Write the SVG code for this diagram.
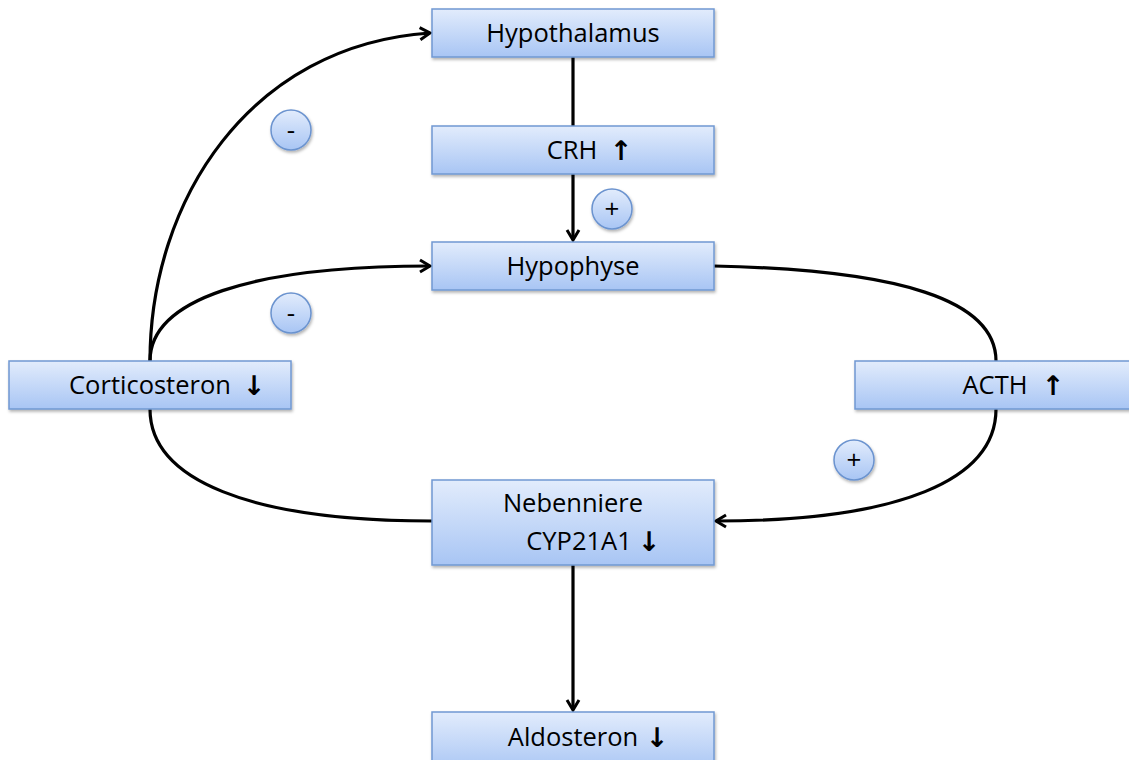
<svg xmlns="http://www.w3.org/2000/svg" width="1129" height="760" viewBox="0 0 1129 760">
<defs>
<linearGradient id="g" x1="0" y1="0" x2="0" y2="1">
<stop offset="0" stop-color="#e2ecfc"/>
<stop offset="1" stop-color="#a8c5f4"/>
</linearGradient>
<filter id="sh" x="-10%" y="-20%" width="120%" height="150%">
<feDropShadow dx="1" dy="2" stdDeviation="1.5" flood-color="#000" flood-opacity="0.3"/>
</filter>
<marker id="ah" markerWidth="16" markerHeight="16" refX="13" refY="8" orient="auto" markerUnits="userSpaceOnUse">
<path d="M3,2 L13,8 L3,14" fill="none" stroke="#000" stroke-width="3"/>
</marker>
</defs>
<style>
.box{fill:url(#g);stroke:#7098d2;stroke-width:1.5;filter:url(#sh)}
.circ{fill:url(#g);stroke:#6b93cf;stroke-width:1.5;filter:url(#sh)}
.t{font-family:"Open Sans","Liberation Sans",sans-serif;font-size:25.5px;fill:#000;text-anchor:middle}
.a{font-family:"DejaVu Sans",sans-serif;font-size:27px;font-weight:bold;fill:#000;text-anchor:middle}
.s{font-family:"Open Sans","Liberation Sans",sans-serif;font-size:26px;fill:#000;text-anchor:middle}
.c{fill:none;stroke:#000;stroke-width:3.2}
</style>
<rect width="1129" height="760" fill="#fff"/>
<g id="connectors">
<path class="c" d="M573,57 L573,126"/>
<path class="c" d="M573,174 L573,240" marker-end="url(#ah)"/>
<path class="c" d="M150,361 C150,200 250,45 430,33" marker-end="url(#ah)"/>
<path class="c" d="M150,361 C150,300 250,266 430,266" marker-end="url(#ah)"/>
<path class="c" d="M714,266 C900,270 996,300 996,361"/>
<path class="c" d="M996,409 C996,480 900,521 716,521" marker-end="url(#ah)"/>
<path class="c" d="M432,521 C250,521 150,480 150,409"/>
<path class="c" d="M573,565 L573,710" marker-end="url(#ah)"/>
</g>
<g id="hypothalamus"><rect class="box" x="432" y="9" width="282" height="48"/><text class="t" x="573" y="42">Hypothalamus</text></g>
<g id="crh"><rect class="box" x="432" y="126" width="282" height="48"/><text class="t" x="572" y="159">CRH</text><text class="a" x="621" y="160">↑</text></g>
<g id="hypophyse"><rect class="box" x="432" y="242" width="282" height="48"/><text class="t" x="573" y="275">Hypophyse</text></g>
<g id="corticosteron"><rect class="box" x="9" y="361" width="282" height="48"/><text class="t" x="150" y="394">Corticosteron</text><text class="a" x="254" y="395">↓</text></g>
<g id="acth"><rect class="box" x="855" y="361" width="290" height="48"/><text class="t" x="995" y="394">ACTH</text><text class="a" x="1053" y="395">↑</text></g>
<g id="nebenniere"><rect class="box" x="432" y="480" width="282" height="85"/><text class="t" x="573" y="512">Nebenniere</text><text class="t" x="579" y="550">CYP21A1</text><text class="a" x="649" y="551">↓</text></g>
<g id="aldosteron"><rect class="box" x="432" y="712" width="282" height="60"/><text class="t" x="573" y="746">Aldosteron</text><text class="a" x="657" y="747">↓</text></g>
<g id="minus1"><circle class="circ" cx="291" cy="130" r="20"/><text class="s" x="291" y="139">-</text></g>
<g id="minus2"><circle class="circ" cx="291" cy="313" r="20"/><text class="s" x="291" y="322">-</text></g>
<g id="plus1"><circle class="circ" cx="612" cy="209" r="20"/><text class="s" x="612" y="218">+</text></g>
<g id="plus2"><circle class="circ" cx="854" cy="460" r="20"/><text class="s" x="854" y="469">+</text></g>
</svg>
